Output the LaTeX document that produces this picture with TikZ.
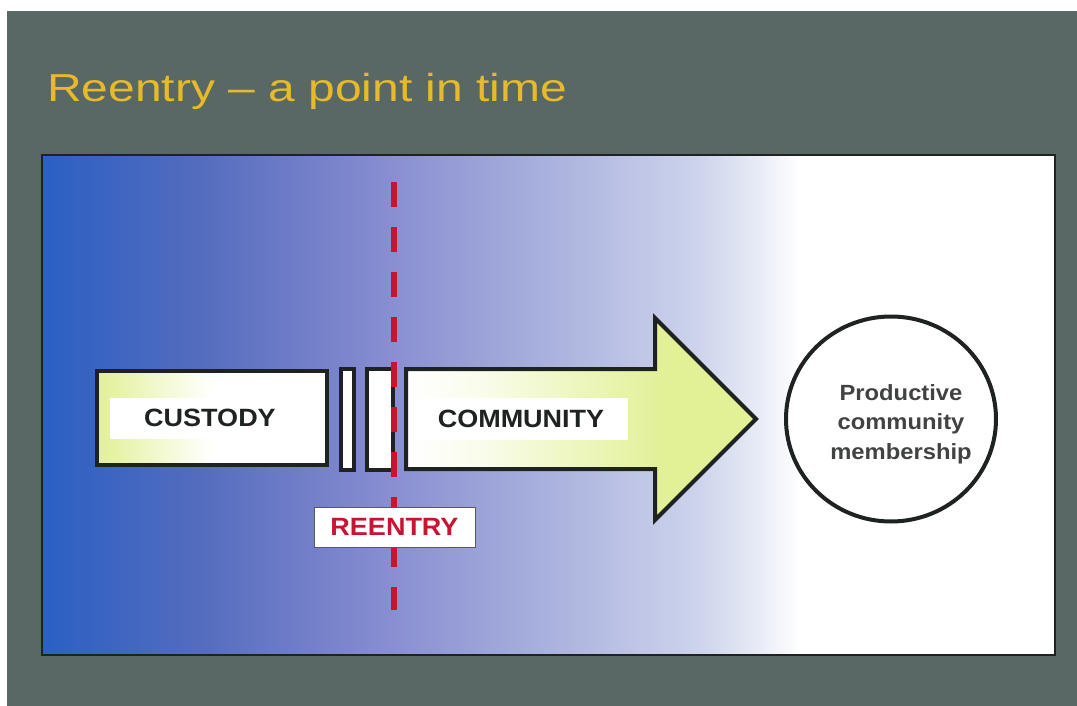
\documentclass[tikz,border=0pt]{standalone}
\usepackage{graphicx}
\usepackage{fontspec}
\setmainfont{Liberation Sans}
\usetikzlibrary{shapes.geometric}
\definecolor{slate}{RGB}{90,104,101}
\definecolor{titleyellow}{RGB}{230,186,40}
\definecolor{reentryred}{RGB}{200,20,50}
\definecolor{limefill}{RGB}{226,240,150}
\definecolor{darkline}{RGB}{30,34,32}
\pgfdeclarehorizontalshading{panelshade}{100bp}{%
  color(0bp)=(rgb,255:red,42;green,96;blue,196);
  color(25bp)=(rgb,255:red,42;green,96;blue,196);
  color(32.8bp)=(rgb,255:red,84;green,108;blue,190);
  color(41.7bp)=(rgb,255:red,134;green,140;blue,208);
  color(50.1bp)=(rgb,255:red,170;green,178;blue,222);
  color(57.5bp)=(rgb,255:red,206;green,212;blue,236);
  color(60.4bp)=(rgb,255:red,232;green,236;blue,246);
  color(62.4bp)=(rgb,255:red,255;green,255;blue,255);
  color(75bp)=(rgb,255:red,255;green,255;blue,255);
  color(100bp)=(rgb,255:red,255;green,255;blue,255)}
\pgfdeclarehorizontalshading{custodyshade}{100bp}{%
  color(0bp)=(limefill);
  color(25bp)=(limefill);
  color(50bp)=(white);
  color(100bp)=(white)}
\pgfdeclarehorizontalshading{arrowshade}{100bp}{%
  color(0bp)=(white);
  color(25bp)=(white);
  color(36bp)=(white!80!limefill);
  color(62bp)=(limefill);
  color(100bp)=(limefill)}
\newcommand{\wide}[1]{\scalebox{1.08}[1]{#1}}
\tikzset{
  boxline/.style={draw=darkline, line width=4pt},
  barbox/.style={boxline, fill=white, inner sep=0pt, minimum width=#1, minimum height=101pt},
  labelbox/.style={fill=white, inner sep=0pt, font=\bfseries\fontsize{25}{28}\selectfont, text=darkline},
  timeline/.style={draw=reentryred, line width=6pt, dash pattern=on 25pt off 20pt},
}
\begin{document}
\begin{tikzpicture}[x=1pt,y=-1pt]
\useasboundingbox (0,0) rectangle (1077,706);
\fill[white] (0,0) rectangle (1077,706);
\fill[slate] (7,11) rectangle (1077,706);
% title
\node[anchor=base west, inner sep=0pt, text=titleyellow, font=\fontsize{39}{41}\selectfont] (title) at (47,102) {\scalebox{1.23}[1]{Reentry -- a point in time}};
% panel
\draw[darkline, line width=2pt, shading=panelshade] (42,155) rectangle (1055,655);
% custody box
\node[boxline, shading=custodyshade, inner sep=0pt, minimum width=230pt, minimum height=94pt] (custody) at (212,418) {};
\node[labelbox, minimum width=200pt, minimum height=41pt] (custodylabel) at (210,418) {\wide{CUSTODY}};
% bars
\node[barbox=13pt] (bar1) at (347.5,419.5) {};
\node[barbox=26pt] (bar2) at (380,419.5) {};
% community arrow
\path[boxline, shading=arrowshade] (406,369) -- (655,369) -- (655,318) -- (756,419) -- (655,520) -- (655,469) -- (406,469) -- cycle;
\node[labelbox, minimum width=214pt, minimum height=42pt] (communitylabel) at (521,419) {\wide{COMMUNITY}};
% timeline
\coordinate (ttop) at (394,182);
\coordinate (tbot) at (394,610);
\draw[timeline] (ttop) -- (tbot);
% reentry label
\node[draw=gray!70!black, line width=1pt, fill=white, minimum width=161pt, minimum height=40pt, inner sep=0pt, text=reentryred, font=\bfseries\fontsize{25}{27}\selectfont] (reentry) at (394.5,527) {\wide{REENTRY}};
% outcome
\node[ellipse, draw=darkline, line width=4pt, fill=white, minimum width=210pt, minimum height=205pt, inner sep=0pt] (outcome) at (891,419) {};
\node[inner sep=0pt, align=center, text=darkline!85!white, font=\bfseries\fontsize{22}{29.5}\selectfont] (outcomelabel) at (901,424) {\wide{Productive}\\\wide{community}\\\wide{membership}};
\end{tikzpicture}
\end{document}
